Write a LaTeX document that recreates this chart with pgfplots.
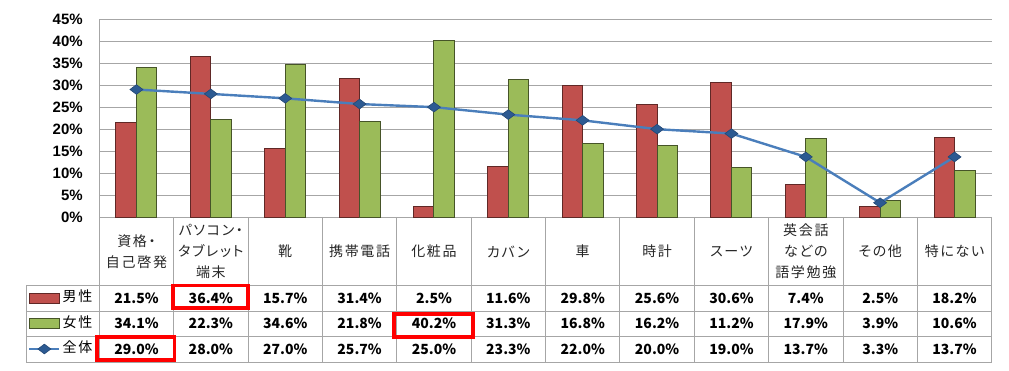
\documentclass[border=0pt]{standalone}
\usepackage{fontspec}
\usepackage{pgfplots}
\usepackage{pgfplotstable}
\pgfplotsset{compat=1.18}
\setmainfont{Liberation Sans}
\newfontfamily\jp[LetterSpace=12, RawFeature=+palt]{Noto Sans CJK JP}
\newfontfamily\jpn{Noto Sans CJK JP}
\definecolor{mred}{HTML}{C0504D}
\definecolor{fgreen}{HTML}{9BBB59}
\definecolor{tblue}{HTML}{4A7EBB}
\definecolor{dblue}{HTML}{2C5A92}
\definecolor{tgray}{HTML}{A6A6A6}
\pgfkeys{/pgf/number format/assume math mode=true}
\pgfplotsset{
  redleg/.style={legend image code/.code={\draw[fill=mred, draw=mred!50!black, line width=1pt] (0pt,-5pt) rectangle (30pt,5pt);}},
  greenleg/.style={legend image code/.code={\draw[fill=fgreen, draw=fgreen!45!black, line width=1pt] (0pt,-5pt) rectangle (30pt,5pt);}},
  lineleg/.style={legend image code/.code={\draw[##1, mark repeat=2, mark phase=2] plot coordinates {(0pt,0pt) (15pt,0pt) (30pt,0pt)};}},
}
\pgfplotstableread{
x m f t
0 21.5 34.1 29.0
1 36.4 22.3 28.0
2 15.7 34.6 27.0
3 31.4 21.8 25.7
4 2.5 40.2 25.0
5 11.6 31.3 23.3
6 29.8 16.8 22.0
7 25.6 16.2 20.0
8 30.6 11.2 19.0
9 7.4 17.9 13.7
10 2.5 3.9 3.3
11 18.2 10.6 13.7
}\datatable
\begin{document}
\begin{tikzpicture}
\begin{scope}[x=1pt,y=1pt]
\useasboundingbox (0,0) rectangle (1009,371);
\end{scope}
\begin{axis}[
  at={(99.3pt,153.7pt)}, anchor=south west,
  scale only axis, width=892.4pt, height=198.3pt,
  xmin=-0.5, xmax=11.5, ymin=0, ymax=45,
  ytick={0,5,...,45},
  yticklabels={0\%,5\%,10\%,15\%,20\%,25\%,30\%,35\%,40\%,45\%},
  yticklabel style={font=\bfseries\fontsize{15}{15}\selectfont, text=black, xshift=-13pt},
  xtick=\empty,
  major tick length=0pt,
  ymajorgrids, grid style={tgray, line width=0.9pt},
  axis lines=left, axis line style={-, tgray, line width=0.9pt},
  clip=false,
  legend style={at={(-0.0799,-0.5356)}, anchor=west, draw=none, fill=none,
    inner sep=0pt, row sep=12.5pt, column sep=2pt,
    nodes={inner sep=0pt, text height=10pt, text depth=3pt, font=\jp\fontsize{14}{14}\selectfont}},
  legend cell align=left,
]
\addplot[ybar, bar width=20.5pt, bar shift=-10.25pt, fill=mred, draw=mred!50!black, line width=1pt, redleg]
  table[x=x,y=m]{\datatable};
\addplot[ybar, bar width=20.5pt, bar shift=10.25pt, fill=fgreen, draw=fgreen!45!black, line width=1pt, greenleg]
  table[x=x,y=f]{\datatable};
\addplot[tblue, line width=2.4pt, mark=diamond*, mark size=6.5pt,
  mark options={rotate=90, fill=dblue, draw=dblue!80!black, line width=0.6pt}, lineleg]
  table[x=x,y=t]{\datatable};
\legend{男性,女性,全体}
\end{axis}
\begin{scope}[x=1pt,y=1pt]
\draw[tgray, line width=0.9pt] (26,86) -- (991.7,86) (26,60) -- (991.7,60) (26,34.5) -- (991.7,34.5) (26,9) -- (991.7,9) (26,86) -- (26,9);
\foreach \i in {0,...,12} \draw[tgray, line width=0.9pt] ({99.3+74.37*\i},154) -- ({99.3+74.37*\i},9);
\foreach \i/\lab in {0/{資格・\\自己啓発},1/{パソコン・\\タブレット\\端末},2/{靴},3/{携帯電話},4/{化粧品},5/{カバン},6/{車},7/{時計},8/{スーツ},9/{英会話\\などの\\語学勉強},10/{その他},11/{特にない}}
  \node[align=center, font=\jp\fontsize{14}{21}\selectfont, text=black!85] at ({136.5+74.37*\i},119.5) {\lab};
\foreach \i in {0,...,11}{
  \pgfplotstablegetelem{\i}{m}\of\datatable
  \node[font=\jpn\bfseries\fontsize{14}{14}\selectfont] at ({136.5+74.37*\i},73) {\pgfmathprintnumber[fixed,fixed zerofill,precision=1]{\pgfplotsretval}\%};
  \pgfplotstablegetelem{\i}{f}\of\datatable
  \node[font=\jpn\bfseries\fontsize{14}{14}\selectfont] at ({136.5+74.37*\i},47.5) {\pgfmathprintnumber[fixed,fixed zerofill,precision=1]{\pgfplotsretval}\%};
  \pgfplotstablegetelem{\i}{t}\of\datatable
  \node[font=\jpn\bfseries\fontsize{14}{14}\selectfont] at ({136.5+74.37*\i},22) {\pgfmathprintnumber[fixed,fixed zerofill,precision=1]{\pgfplotsretval}\%};
}
\draw[red, line width=3.5pt] (173.2,85.5) rectangle (247.8,63.2);
\draw[red, line width=3.5pt] (394.2,56.8) rectangle (472.8,34.2);
\draw[red, line width=3.5pt] (97.2,33.8) rectangle (174.5,10.8);
\end{scope}
\end{tikzpicture}
\end{document}
